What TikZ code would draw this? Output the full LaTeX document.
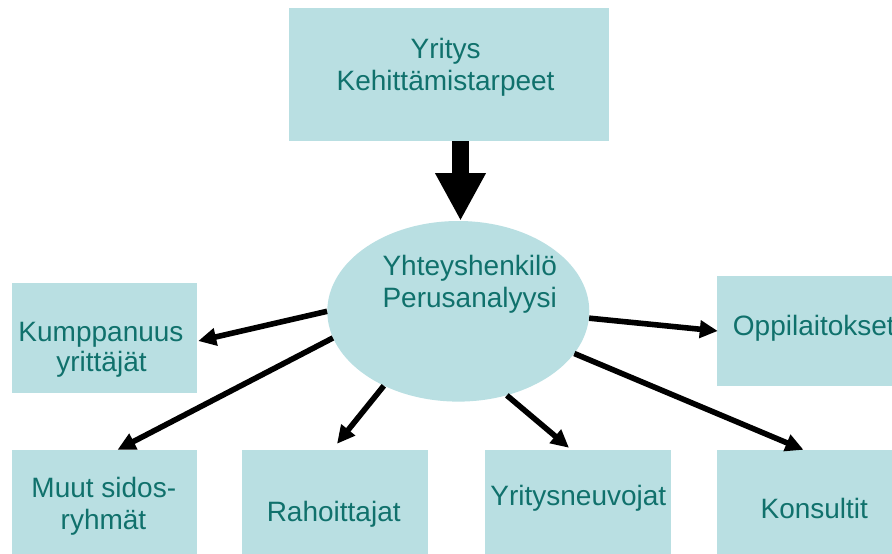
\documentclass[tikz,border=0pt]{standalone}
\usepackage{fontspec}
\setmainfont{Liberation Sans}
\usetikzlibrary{shapes.geometric,arrows.meta,calc}
\definecolor{boxfill}{HTML}{B9DFE2}
\definecolor{txt}{HTML}{10716C}
\tikzset{
  box/.style={rectangle, fill=boxfill, draw=none, inner sep=0pt},
  lbl/.style={anchor=base, text=txt, inner sep=0pt, font=\fontsize{28}{32}\selectfont},
  link/.style={line width=5.6pt, -{Triangle[length=18pt,width=17pt]}},
  bigarrow/.style={line width=16.6pt, -{Triangle[length=47.7pt,width=47.3pt]}}
}
\begin{document}
\begin{tikzpicture}[x=1pt,y=-1pt]
\useasboundingbox (0,0) rectangle (892,554);
\clip (0,0) rectangle (892,554);
% boxes
\node[box, minimum width=320pt, minimum height=133pt] (top) at (449,74.5) {};
\node[ellipse, fill=boxfill, inner sep=0pt, minimum width=262pt, minimum height=180.6pt] (ell) at (458.3,311.3) {};
\node[box, minimum width=185pt, minimum height=110pt] (kump) at (104.5,338) {};
\node[box, minimum width=183pt, minimum height=110pt] (oppi) at (808.5,331) {};
\node[box, minimum width=185pt, minimum height=110pt] (muut) at (104.5,505) {};
\node[box, minimum width=186pt, minimum height=110pt] (rahoit) at (335,505) {};
\node[box, minimum width=186pt, minimum height=110pt] (yrit) at (578,505) {};
\node[box, minimum width=183pt, minimum height=110pt] (kons) at (808.5,505) {};
% texts
\node[lbl] (t1a) at (445.6,58.3) {Yritys};
\node[lbl] (t1b) at (445.6,90.7) {Kehittämistarpeet};
\node[lbl] (e1a) at (469.7,275) {Yhteyshenkilö};
\node[lbl] (e1b) at (469.7,307) {Perusanalyysi};
\node[lbl] (k1a) at (101,341) {Kumppanuus};
\node[lbl] (k1b) at (101.5,371.7) {yrittäjät};
\node[lbl, anchor=base west] (o1) at (732.7,335.7) {Oppilaitokset};
\node[lbl] (m1a) at (103.8,497.7) {Muut sidos-};
\node[lbl] (m1b) at (103.5,529.3) {ryhmät};
\node[lbl] (r1) at (333.7,521.7) {Rahoittajat};
\node[lbl] (y1) at (578.3,505) {Yritysneuvojat};
\node[lbl] (c1) at (814.3,518.3) {Konsultit};
% connectors
\draw[bigarrow] ($(top.south)+(11.5,0)$) -- ($(ell.north)+(2.2,0)$);
\draw[link] (ell.180.9) -- ($(kump.east)+(1,3)$);
\draw[link] (ell.192.4) -- ($(muut.north)+(13,0)$);
\draw[link] (ell.225.8) -- ($(rahoit.north)+(2,-6)$);
\draw[link] (ell.300.9) -- ($(yrit.north)+(-9,-2)$);
\draw[link] (ell.340.8) -- ($(kons.north)+(-5,0)$);
\draw[link] (ell.357.6) -- ($(oppi.west)+(1,0)$);
\end{tikzpicture}
\end{document}
